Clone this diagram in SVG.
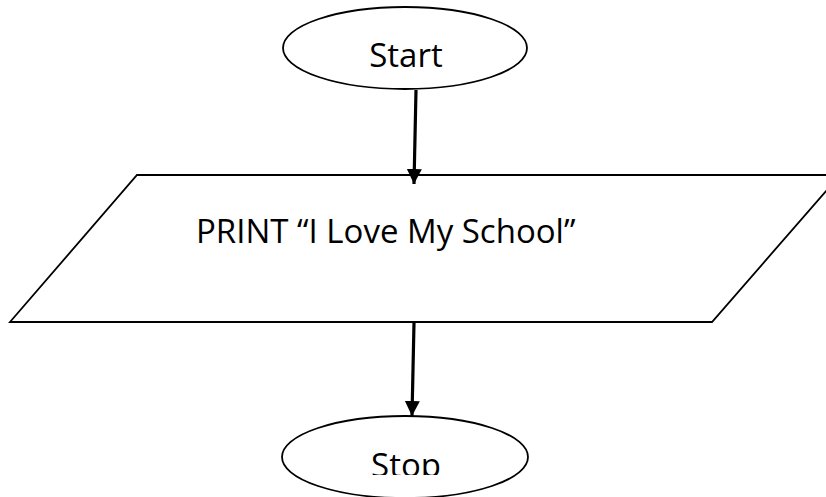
<svg xmlns="http://www.w3.org/2000/svg" width="826" height="497" viewBox="0 0 826 497">
  <style>
    .shape { fill: #ffffff; stroke: #000000; stroke-width: 1.8; }
    .label { font-family: "Open Sans", "Noto Sans", "Liberation Sans", sans-serif; font-size: 33px; fill: #000000; }
    .flow { stroke: #000000; stroke-width: 3.2; fill: none; }
  </style>
  <defs>
    <marker id="arrow" markerUnits="userSpaceOnUse" markerWidth="18" markerHeight="18" refX="15" refY="7.5" orient="auto">
      <path d="M0,0 L15,7.5 L0,15 Z" fill="#000000"/>
    </marker>
    <clipPath id="stopClip">
      <rect x="0" y="0" width="826" height="475"/>
    </clipPath>
  </defs>
  <rect width="826" height="497" fill="#ffffff"/>

  <g id="start">
    <ellipse class="shape" cx="405" cy="48" rx="122" ry="41"/>
    <text class="label" x="406" y="67" text-anchor="middle">Start</text>
  </g>

  <g id="print">
    <polygon class="shape" points="137,175 840,175 712,322 10,322"/>
    <text class="label" x="196" y="243">PRINT “I Love My School”</text>
  </g>

  <g id="stop">
    <ellipse class="shape" cx="405" cy="457" rx="123" ry="41"/>
    <text class="label" x="406" y="477" text-anchor="middle" clip-path="url(#stopClip)">Stop</text>
  </g>

  <g id="connectors">
    <line class="flow" x1="416" y1="90" x2="414" y2="184" marker-end="url(#arrow)"/>
    <line class="flow" x1="414" y1="323" x2="412" y2="416" marker-end="url(#arrow)"/>
  </g>
</svg>
